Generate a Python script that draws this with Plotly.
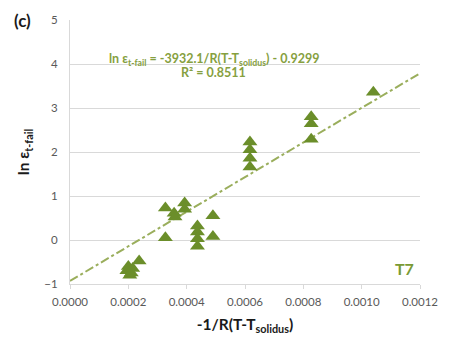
import plotly.graph_objects as go

# Data
x_vals = [0.000195, 0.000200, 0.000205, 0.000210, 0.000215, 0.000237,
          0.000327, 0.000327, 0.000357, 0.000360,
          0.000393, 0.000393,
          0.000437, 0.000437, 0.000437, 0.000437,
          0.000490, 0.000490,
          0.000617, 0.000617, 0.000617, 0.000617,
          0.000827, 0.000827, 0.000827,
          0.001040]
y_vals = [-0.70, -0.60, -0.80, -0.75, -0.65, -0.48,
          0.73, 0.05, 0.61, 0.52,
          0.84, 0.70,
          0.32, 0.18, 0.03, -0.14,
          0.55, 0.08,
          2.23, 2.05, 1.86, 1.66,
          2.80, 2.64, 2.29,
          3.36]

slope = 3932.1
intercept = -0.9299
fit_x = [0.0, 0.0012]
fit_y = [slope * v + intercept for v in fit_x]

x_ticks = [0.0, 0.0002, 0.0004, 0.0006, 0.0008, 0.0010, 0.0012]
y_ticks = [-1, 0, 1, 2, 3, 4, 5]

green_marker = "#6b8e2a"
green_line = "#9aae5c"
green_text = "#86a03f"
font_family = "Lato, Open Sans, sans-serif"

fig = go.Figure()
fig.add_trace(go.Scatter(x=fit_x, y=fit_y, mode="lines",
                         line=dict(color=green_line, width=2, dash="dashdot"),
                         hoverinfo="skip", showlegend=False))
fig.add_trace(go.Scatter(x=x_vals, y=y_vals, mode="markers",
                         marker=dict(symbol="triangle-up", size=13, color=green_marker,
                                     line=dict(width=0)),
                         showlegend=False))

fig.update_layout(
    width=450, height=347,
    margin=dict(l=70, r=20, t=20, b=63),
    paper_bgcolor="white", plot_bgcolor="white",
    font=dict(family=font_family, size=11, color="#595959"),
    xaxis=dict(range=[0, 0.0012], tickvals=x_ticks, tickformat=".4f",
               showgrid=False, zeroline=False, showline=True, linecolor="#d9d9d9",
               ticks="outside", ticklen=4, tickcolor="#d9d9d9",
               ticklabelstandoff=3,
               tickfont=dict(size=11.5, color="#595959"),
               title=dict(text="<b>-1/R(T-T<sub>solidus</sub>)</b>",
                          font=dict(size=15.5, color="#1a1a1a"), standoff=12)),
    yaxis=dict(range=[-1, 5], tickvals=y_ticks, showgrid=True, gridcolor="#d9d9d9",
               zeroline=False, showline=True, linecolor="#d9d9d9",
               ticks="", ticklabelstandoff=9,
               tickfont=dict(size=11.5, color="#595959"),
               title=dict(text="<b>ln ε<sub>t-fail</sub></b>",
                          font=dict(size=15.5, color="#1a1a1a"), standoff=10)),
    annotations=[
        dict(text="<b>(c)</b>", xref="paper", yref="paper", x=-0.135, y=1.0,
             xanchor="center", yanchor="middle", showarrow=False,
             font=dict(size=17, color="#1a1a1a")),
        dict(text="<b>ln ε<sub>t-fail</sub> = -3932.1/R(T-T<sub>solidus</sub>) - 0.9299</b>",
             xref="paper", yref="paper", x=0.41, y=0.85, xanchor="center", yanchor="middle",
             showarrow=False, font=dict(size=12.5, color=green_text)),
        dict(text="<b>R² = 0.8511</b>",
             xref="paper", yref="paper", x=0.41, y=0.80, xanchor="center", yanchor="middle",
             showarrow=False, font=dict(size=12.5, color=green_text)),
        dict(text="<b>T7</b>", xref="paper", yref="paper", x=0.955, y=0.06,
             xanchor="center", yanchor="middle", showarrow=False,
             font=dict(size=16, color="#7a9a35")),
    ],
)

fig.write_html("out.html", config={"displayModeBar": False},
               post_script="document.body.style.margin='0';document.body.style.overflow='hidden';")
